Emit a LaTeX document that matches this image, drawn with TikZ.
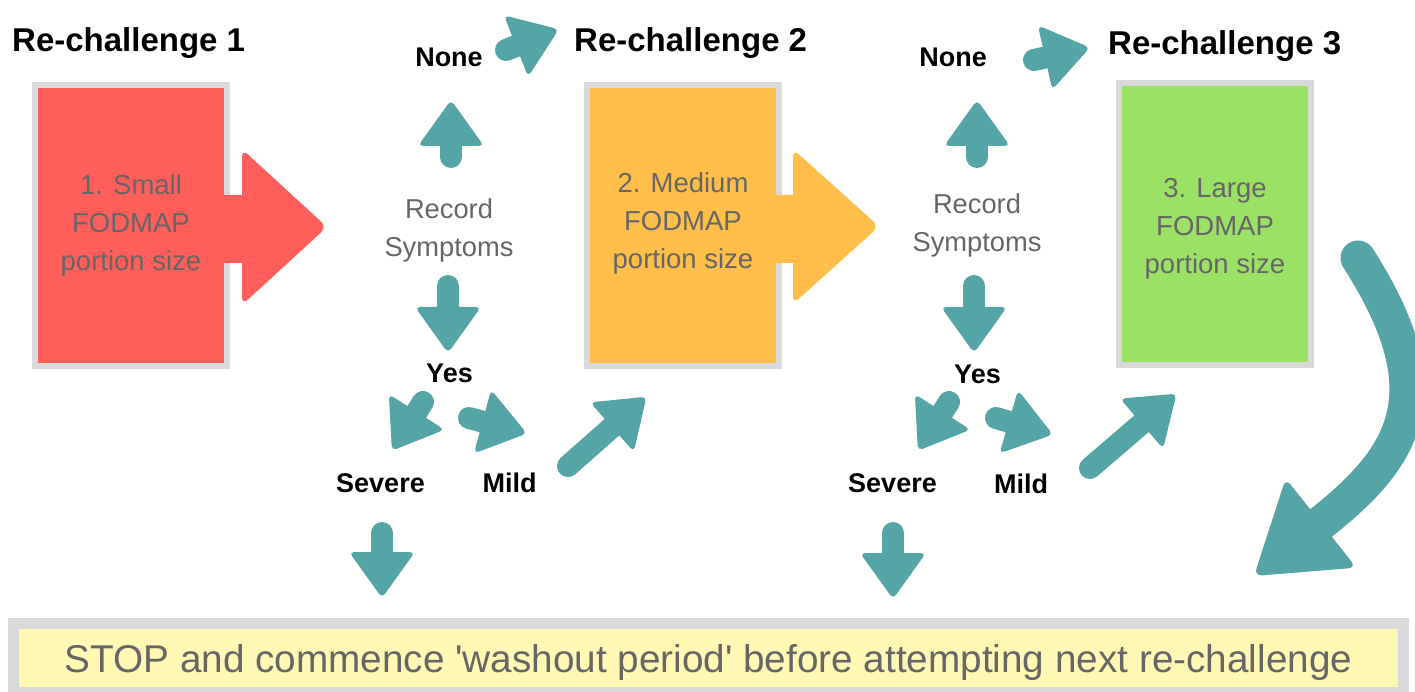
\documentclass[tikz,border=0pt]{standalone}
\usepackage{fontspec}
\setmainfont{Liberation Sans}
\usetikzlibrary{calc}
\definecolor{boxred}{HTML}{FF5E5B}
\definecolor{boxorange}{HTML}{FFBD4A}
\definecolor{boxgreen}{HTML}{9BE166}
\definecolor{baryellow}{HTML}{FFF8B4}
\definecolor{rimgray}{HTML}{D9D9D9}
\definecolor{txtgray}{HTML}{666666}
\definecolor{arrteal}{HTML}{56A5A6}
\tikzset{
  rctitle/.style={font=\fontsize{33}{38}\selectfont\bfseries, anchor=base west, inner sep=0},
  answer/.style={font=\fontsize{27}{38}\selectfont\bfseries, anchor=base, inner sep=0},
  record/.style={font=\fontsize{27.3}{38}\selectfont, text=txtgray, align=center, inner sep=0},
  portion/.style={draw=rimgray, line width=6pt, minimum width=192pt, minimum height=281pt, inner sep=0, align=center, text=txtgray, font=\fontsize{27.5}{38}\selectfont},
}
\newcommand{\blkarrow}[2]{%
  \path ($(#2)!44pt!(#1)$) coordinate (hb) ($(hb)!33pt!90:(#2)$) coordinate (hl) ($(hb)!33pt!-90:(#2)$) coordinate (hr);
  \draw[arrteal, line width=22pt, line cap=round] (#1) -- (hb);
  \fill[arrteal, rounded corners=5pt] (hl) -- ($(hb)!46pt!(#2)$) -- (hr) -- cycle;
}

\begin{document}
\begin{tikzpicture}[x=1pt, y=-1pt]
\useasboundingbox (0,0) rectangle (1415,692);
\clip (0,0) rectangle (1415,692);
\node[rctitle] (rc1) at (12,52) {Re-challenge 1};
\node[rctitle] (rc2) at (574,52) {Re-challenge 2};
\node[rctitle] (rc3) at (1108,55) {Re-challenge 3};
\node[portion, fill=boxred] (small) at (131,225.5) {1. Small\\FODMAP\\portion size};
\node[portion, fill=boxorange] (medium) at (683,225.5) {2. Medium\\FODMAP\\portion size\rule[-9pt]{0pt}{0pt}};
\node[portion, fill=boxgreen] (large) at (1215,224) {\rule{0pt}{28pt}3. Large\\FODMAP\\portion size};
\fill[boxred] (224,195) -- (242,195) [rounded corners=8pt] -- (242,149) -- (327,227) -- (242,305) [sharp corners] -- (242,263) -- (224,263) -- cycle;
\fill[boxorange] (776,195) -- (793,195) [rounded corners=8pt] -- (793,149) -- (879,226.5) -- (793,304) [sharp corners] -- (793,263) -- (776,263) -- cycle;
\node[record] (recA) at (449,230.5) {Record\\Symptoms};
\node[record] (recB) at (977,225.5) {Record\\Symptoms};
\node[answer] (noneA) at (449,67) {None};
\node[answer] (noneB) at (953,67) {None};
\node[answer] (yesA) at (449.5,382) {Yes};
\node[answer] (yesB) at (977.5,383) {Yes};
\node[answer] (sevA) at (380.5,492) {Severe};
\node[answer] (sevB) at (892.5,492) {Severe};
\node[answer] (mildA) at (509.5,492) {Mild};
\node[answer] (mildB) at (1021,493) {Mild};
\node[draw=rimgray, line width=10.5pt, fill=baryellow, minimum width=1390pt, minimum height=68.5pt, inner sep=0, text=txtgray, font=\fontsize{38.7}{44}\selectfont, text height=28.5pt, text depth=0pt] (stop) at (708.5,657.75) {STOP and commence \textquotesingle washout period\textquotesingle{} before attempting next re-challenge};
\coordinate (topAt) at (506,50);   \coordinate (topAh) at (557,30);
\coordinate (upAt) at (451,157);   \coordinate (upAh) at (451,102);
\coordinate (dnAt) at (448,286);   \coordinate (dnAh) at (448,351);
\coordinate (sevAt) at (423,402);  \coordinate (sevAh) at (393,449);
\coordinate (mildAt) at (469,418); \coordinate (mildAh) at (525,433);
\coordinate (nextAt) at (568,466); \coordinate (nextAh) at (645,398);
\coordinate (stopAt) at (382,533); \coordinate (stopAh) at (382,596);
\coordinate (topBt) at (1034,60);   \coordinate (topBh) at (1088,48);
\coordinate (upBt) at (977,157);    \coordinate (upBh) at (977,102);
\coordinate (dnBt) at (974,286);    \coordinate (dnBh) at (974,351);
\coordinate (sevBt) at (949,402);   \coordinate (sevBh) at (919,449);
\coordinate (mildBt) at (996,418);  \coordinate (mildBh) at (1051,434);
\coordinate (nextBt) at (1090,468); \coordinate (nextBh) at (1175,395);
\coordinate (stopBt) at (893,533);  \coordinate (stopBh) at (893,597);
\foreach \a in {topA,upA,dnA,sevA,mildA,nextA,stopA,topB,upB,dnB,sevB,mildB,nextB,stopB} {
  \blkarrow{\a t}{\a h}
}
\coordinate (loopS) at (1358,258);
\coordinate (loopE) at (1321,523);
\coordinate (loopT) at (1254,576);
\draw[arrteal, line width=35pt, line cap=round] (loopS) .. controls (1444,392) and (1407,455) .. (loopE);
\fill[arrteal, rounded corners=8pt] ($(loopE)!57pt!90:(loopT)$) -- (loopT) -- ($(loopE)!57pt!-90:(loopT)$) -- cycle;
\end{tikzpicture}
\end{document}
